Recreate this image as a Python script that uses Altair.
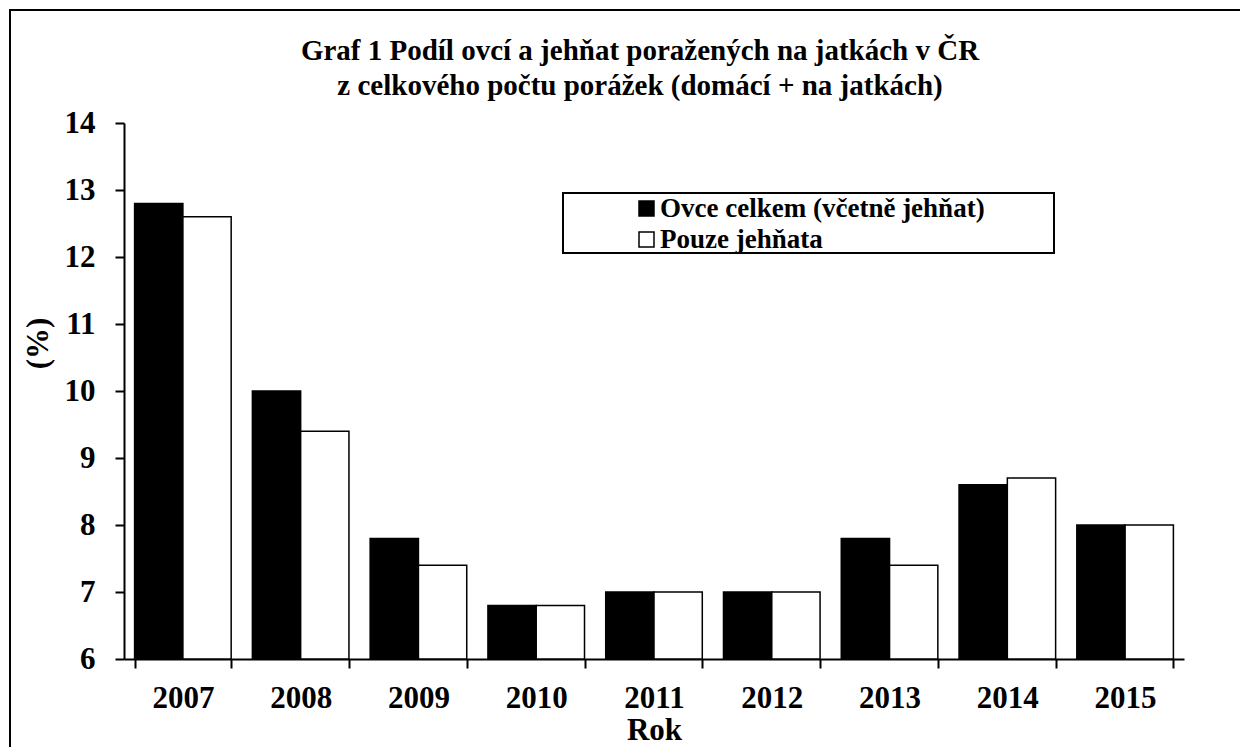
import altair as alt
import pandas as pd

years = ["2007", "2008", "2009", "2010", "2011", "2012", "2013", "2014", "2015"]
series_names = ["Ovce celkem (včetně jehňat)", "Pouze jehňata"]
ovce_celkem = [12.8, 10.0, 7.8, 6.8, 7.0, 7.0, 7.8, 8.6, 8.0]
pouze_jehnata = [12.6, 9.4, 7.4, 6.8, 7.0, 7.0, 7.4, 8.7, 8.0]
y_ticks = [6, 7, 8, 9, 10, 11, 12, 13, 14]
title_lines = [
    "Graf 1 Podíl ovcí a jehňat poražených na jatkách v ČR",
    "z celkového počtu porážek (domácí + na jatkách)",
]

rows = []
for i, yr in enumerate(years):
    rows.append({"Rok": yr, "Serie": series_names[0], "Hodnota": ovce_celkem[i]})
    rows.append({"Rok": yr, "Serie": series_names[1], "Hodnota": pouze_jehnata[i]})
df = pd.DataFrame(rows)

FONT = "Liberation Serif"
W, H = 1060, 536

bars = alt.Chart(df).mark_bar(stroke="black", strokeWidth=1.5, opacity=1).encode(
    x=alt.X(
        "Rok:N",
        sort=years,
        scale=alt.Scale(paddingInner=0.18, paddingOuter=0.09),
        axis=alt.Axis(
            title="Rok",
            labelAngle=0,
            tickBand="extent",
            tickSize=9,
            labelPadding=15,
            titleY=71,
            titleBaseline="middle",
        ),
    ),
    xOffset=alt.XOffset("Serie:N", sort=series_names,
                        scale=alt.Scale(paddingInner=0, paddingOuter=0)),
    y=alt.Y(
        "Hodnota:Q",
        scale=alt.Scale(domain=[6, 14], zero=False, nice=False),
        axis=alt.Axis(
            values=y_ticks,
            title="(%)",
            tickSize=9,
            labelPadding=20,
            titleX=-86,
            titleY=220,
            titleBaseline="middle",
        ),
    ),
    y2=alt.datum(6),
    color=alt.Color(
        "Serie:N",
        sort=series_names,
        scale=alt.Scale(domain=series_names, range=["black", "white"]),
        legend=alt.Legend(
            title=None,
            orient="none",
            legendX=509,
            legendY=72,
            symbolType="square",
            symbolSize=225,
            symbolStrokeColor="black",
            symbolStrokeWidth=1.5,
            labelFont=FONT,
            labelFontSize=27,
            labelFontWeight="bold",
            labelColor="black",
            labelOffset=0,
            rowPadding=3,
            padding=0,
            labelLimit=600,
        ),
    ),
)

one = pd.DataFrame({"k": [0]})
border = alt.Chart(one).mark_rect(filled=False, stroke="black", strokeWidth=2).encode(
    x=alt.value(-114), x2=alt.value(1200), y=alt.value(-113), y2=alt.value(700)
)
legend_box = alt.Chart(one).mark_rect(filled=False, stroke="black", strokeWidth=2).encode(
    x=alt.value(439), x2=alt.value(930), y=alt.value(70), y2=alt.value(130)
)

chart = alt.layer(border, bars, legend_box).properties(
    width=W,
    height=H,
    autosize=alt.AutoSizeParams(type="none"),
    padding={"left": 116, "top": 115, "right": 56, "bottom": 88},
    title=alt.Title(
        text=title_lines,
        font=FONT,
        fontSize=29,
        fontWeight="bold",
        color="black",
        lineHeight=35,
        anchor="middle",
        frame="group",
        baseline="top",
        offset=-92,
        dx=-14,
    ),
).configure_view(stroke=None).configure_axis(
    domainColor="black",
    domainWidth=2,
    tickColor="black",
    tickWidth=2,
    labelFont=FONT,
    labelFontSize=31,
    labelFontWeight="bold",
    labelColor="black",
    titleFont=FONT,
    titleFontSize=31,
    titleFontWeight="bold",
    titleColor="black",
    grid=False,
)

chart.save("out.html", embed_options={"renderer": "svg", "actions": False})
